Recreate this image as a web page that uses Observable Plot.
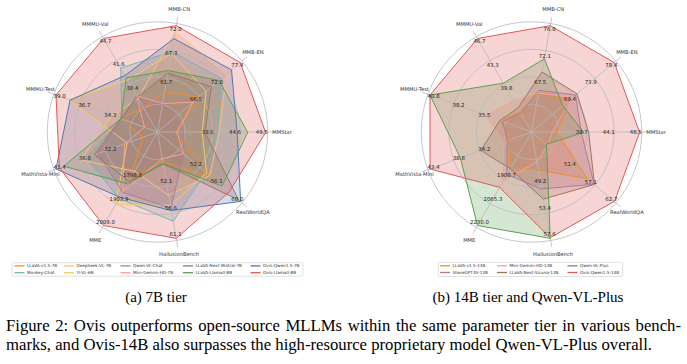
<!DOCTYPE html>
<html><head><meta charset="utf-8">
<script src="https://cdn.jsdelivr.net/npm/d3@7"></script>
<script src="https://cdn.jsdelivr.net/npm/@observablehq/plot@0.6"></script>
<style>
body{margin:0;background:#fff;}
#page{position:relative;width:687px;height:364px;overflow:hidden;}
.chart{position:absolute;top:0;}
.legend{position:absolute;}
.sub{position:absolute;font-family:"Liberation Serif";font-size:15px;color:#000;white-space:nowrap;transform:translate(-50%,-50%);line-height:1;}
.cap{position:absolute;left:6px;font-family:"Liberation Serif";font-size:16.7px;line-height:17px;color:#000;}
</style></head>
<body>
<div id="page">
<div id="chartA" class="chart" style="left:0px"></div>
<div id="chartB" class="chart" style="left:343px"></div>
<div id="legA" class="legend" style="left:0;top:0"></div>
<div class="sub" style="left:156px;top:297px">(a) 7B tier</div>
<div class="sub" style="left:528px;top:297px">(b) 14B tier and Qwen-VL-Plus</div>
<div class="cap" style="top:317px;width:675px;text-align:justify;text-align-last:justify;">Figure 2: Ovis outperforms open-source MLLMs within the same parameter tier in various bench-</div>
<div class="cap" style="top:336px;white-space:nowrap;">marks, and Ovis-14B also surpasses the high-resource proprietary model Qwen-VL-Plus overall.</div>
</div>
<script>
// ---------------- data ----------------
const axesNames = ["MMStar","MMB-EN","MMB-CN","MMMU-Val","MMMU-Test","MathVista-Mini","MME","HallusionBench","RealWorldQA"];

// tick labels (low, mid, high ring) per axis
const ticks7B = [
  ["39.6","44.6","49.5"],
  ["66.5","72.0","77.4"],
  ["61.7","67.3","72.0"],
  ["38.4","41.6","44.7"],
  ["34.3","36.7","39.0"],
  ["32.2","36.8","41.4"],
  ["1798.8","1903.9","2009.0"],
  ["52.1","56.6","61.1"],
  ["52.2","56.1","60.0"]
];
const ticks14B = [
  ["39.7","44.1","48.5"],
  ["69.4","73.9","78.4"],
  ["67.5","72.1","76.8"],
  ["39.8","43.3","46.7"],
  ["35.5","38.2","40.8"],
  ["34.2","38.8","43.4"],
  ["1900.7","2065.3","2230.0"],
  ["49.2","53.4","57.6"],
  ["51.4","57.1","62.7"]
];

// models (legend order) and their scores, in axesNames order
const models7B = ["LLaVA-v1.5-7B","Monkey-Chat","DeepSeek-VL-7B","Yi-VL-6B","Qwen-VL-Chat","Mini-Gemini-HD-7B","LLaVA-Next-Mistral-7B","LLaVA-Llama3-8B","Ovis-Qwen1.5-7B","Ovis-Llama3-8B"];
const llava15_7b   = [33.1, 66.5, 59.2, 35.3, 33.0, 25.6, 1808.4, 48.0, 54.8];
const monkeyChat   = [40.7, 72.4, 67.0, 40.7, 32.9, 35.9, 1887.4, 58.2, 53.5];
const deepseek7b   = [41.0, 73.8, 70.8, 36.6, 33.8, 36.9, 1765.4, 53.8, 54.2];
const yiVL6b       = [37.9, 68.4, 66.6, 39.1, 37.8, 28.5, 1915.4, 55.5, 53.6];
const qwenVLChat   = [34.5, 60.6, 56.7, 37.0, 32.9, 33.8, 1860.0, 56.0, 49.3];
const miniGemini7b = [33.3, 65.0, 56.9, 37.0, 30.8, 29.0, 1857.0, 47.6, 49.3];
const llavaNextMis = [38.4, 69.8, 62.8, 36.8, 33.0, 34.4, 1810.0, 48.5, 59.6];
const llavaLlama3  = [46.2, 71.8, 63.3, 39.4, 33.0, 40.0, 1822.0, 48.5, 56.5];
const ovisQwen7b   = [44.3, 75.1, 69.5, 39.7, 37.7, 41.4, 1882.0, 56.4, 60.0];
const ovisLlama8b  = [49.5, 77.4, 72.0, 44.7, 39.0, 40.8, 2009.0, 61.1, 57.9];
const values7B = [llava15_7b, monkeyChat, deepseek7b, yiVL6b, qwenVLChat, miniGemini7b, llavaNextMis, llavaLlama3, ovisQwen7b, ovisLlama8b];

const models14B = ["LLaVA-v1.5-13B","ShareGPT4V-13B","Mini-Gemini-HD-13B","LLaVA-Next-Vicuna-13B","Qwen-VL-Plus","Ovis-Qwen1.5-14B"];
const llava15_13b   = [35.1, 68.9, 65.0, 35.9, 33.4, 29.1, 1819.0, 46.8, 55.3];
const shareGPT4v13b = [39.0, 70.0, 65.5, 35.7, 33.2, 29.4, 1871.0, 49.8, 57.1];
const miniGemini13b = [34.3, 69.3, 65.0, 37.5, 35.0, 30.0, 1920.0, 45.5, 44.5];
const llavaNextVic  = [40.2, 70.3, 68.7, 36.4, 33.5, 34.2, 1830.0, 51.4, 57.2];
const qwenVLPlus    = [39.4, 67.2, 71.0, 40.1, 40.8, 37.9, 2230.0, 57.6, 44.2];
const ovisQwen14b   = [48.5, 78.4, 76.8, 46.7, 40.8, 43.4, 1961.0, 57.5, 62.7];
const values14B = [llava15_13b, shareGPT4v13b, miniGemini13b, llavaNextVic, qwenVLPlus, ovisQwen14b];

// ---------------- styles ----------------
const colors7B = ["#f28e2b","#76b7b2","#ffbe7d","#f1ce63","#b07aa1","#ff9d9a","#9d7660","#59a14f","#4e79a7","#e15759"];
const colors14B = ["#f28e2b","#b07aa1","#ff9d9a","#9d7660","#59a14f","#e15759"];

// ---------------- radar ----------------
function radar(names, colors, values, ticks, cx, cy, W, H) {
  const R = 108;
  const n = axesNames.length;
  const ang = i => (i * 2 * Math.PI) / n;
  const dom = ticks.map(tk => { const lo = +tk[0], hi = +tk[2]; return [hi - 2 * (hi - lo), hi]; });
  const tOf = (v, i) => (v - dom[i][0]) / (dom[i][1] - dom[i][0]);
  const series = names.map((name, s) => values[s].map((v, i) => {
    const t = tOf(v, i);
    return {name, x: t * Math.cos(ang(i)), y: t * Math.sin(ang(i))};
  }));
  const rings = [];
  [0.25, 0.5, 0.75, 1].forEach(k => {
    d3.range(0, 361, 2).forEach(a => rings.push({k, x: 1.02 * k * Math.cos(a * Math.PI / 180), y: 1.02 * k * Math.sin(a * Math.PI / 180)}));
  });
  const tickPts = [];
  ticks.forEach((tk, i) => tk.forEach(lab => {
    const t = tOf(+lab, i) - 0.035;
    tickPts.push({lab, x: t * Math.cos(ang(i)), y: t * Math.sin(ang(i))});
  }));
  const marks = [];
  series.forEach((pts, s) => marks.push(Plot.line(pts, {x: "x", y: "y", curve: "linear-closed", fill: colors[s], fillOpacity: 0.25, stroke: "none"})));
  marks.push(Plot.line(rings, {x: "x", y: "y", z: "k", stroke: "#b8b8b8", strokeWidth: 0.8}));
  marks.push(Plot.link(axesNames, {x1: 0, y1: 0, x2: (d, i) => 1.08 * Math.cos(ang(i)), y2: (d, i) => 1.08 * Math.sin(ang(i)), stroke: "#b8b8b8", strokeWidth: 0.8}));
  series.forEach((pts, s) => marks.push(Plot.line(pts, {x: "x", y: "y", curve: "linear-closed", stroke: colors[s], strokeWidth: 1})));
  marks.push(Plot.text(tickPts, {x: "x", y: "y", text: "lab", fontSize: 5.4, fill: "#222"}));
  marks.push(Plot.text(axesNames, {x: (d, i) => 1.153 * Math.cos(ang(i)), y: (d, i) => 1.153 * Math.sin(ang(i)), text: d => d, fontSize: 5.2, fill: "#333"}));
  return Plot.plot({
    width: W, height: H, margin: 0,
    x: {domain: [-cx / R, (W - cx) / R], axis: null},
    y: {domain: [-(H - cy) / R, cy / R], axis: null},
    style: {fontFamily: "DejaVu Sans", background: "transparent", overflow: "visible"},
    marks
  });
}

document.getElementById("chartA").appendChild(radar(models7B, colors7B, values7B, ticks7B, 157, 131.5, 343, 258));
document.getElementById("chartB").appendChild(radar(models14B, colors14B, values14B, ticks14B, 188, 131.5, 344, 258));

// ---------------- legends (svg overlay) ----------------
const leg = d3.create("svg").attr("width", 687).attr("height", 364)
  .style("position", "absolute").style("left", 0).style("top", 0).style("font-family", "DejaVu Sans");
function legend(names, colors, box, colX, rowY) {
  leg.append("rect").attr("x", box[0]).attr("y", box[1]).attr("width", box[2]).attr("height", box[3])
    .attr("rx", 1.5).attr("fill", "#fff").attr("stroke", "#d4d4d4").attr("stroke-width", 0.7);
  names.forEach((name, s) => {
    const c = Math.floor(s / 2), r = s % 2;
    const x = colX[c], y = rowY[r];
    leg.append("line").attr("x1", x).attr("x2", x + 10).attr("y1", y).attr("y2", y)
      .attr("stroke", colors[s]).attr("stroke-width", 1.3);
    leg.append("text").attr("x", x + 12.5).attr("y", y).attr("dy", "0.35em")
      .attr("font-size", 4.2).attr("fill", "#333").text(name);
  });
}
legend(models7B, colors7B, [12, 262.7, 291, 13.5], [14.5, 64, 120.5, 183, 250.5], [265.9, 272.7]);
legend(models14B, colors14B, [438.3, 262.3, 184.4, 14.2], [440, 497, 567.5], [265.8, 272.5]);
document.getElementById("legA").appendChild(leg.node());
</script>
</body></html>
